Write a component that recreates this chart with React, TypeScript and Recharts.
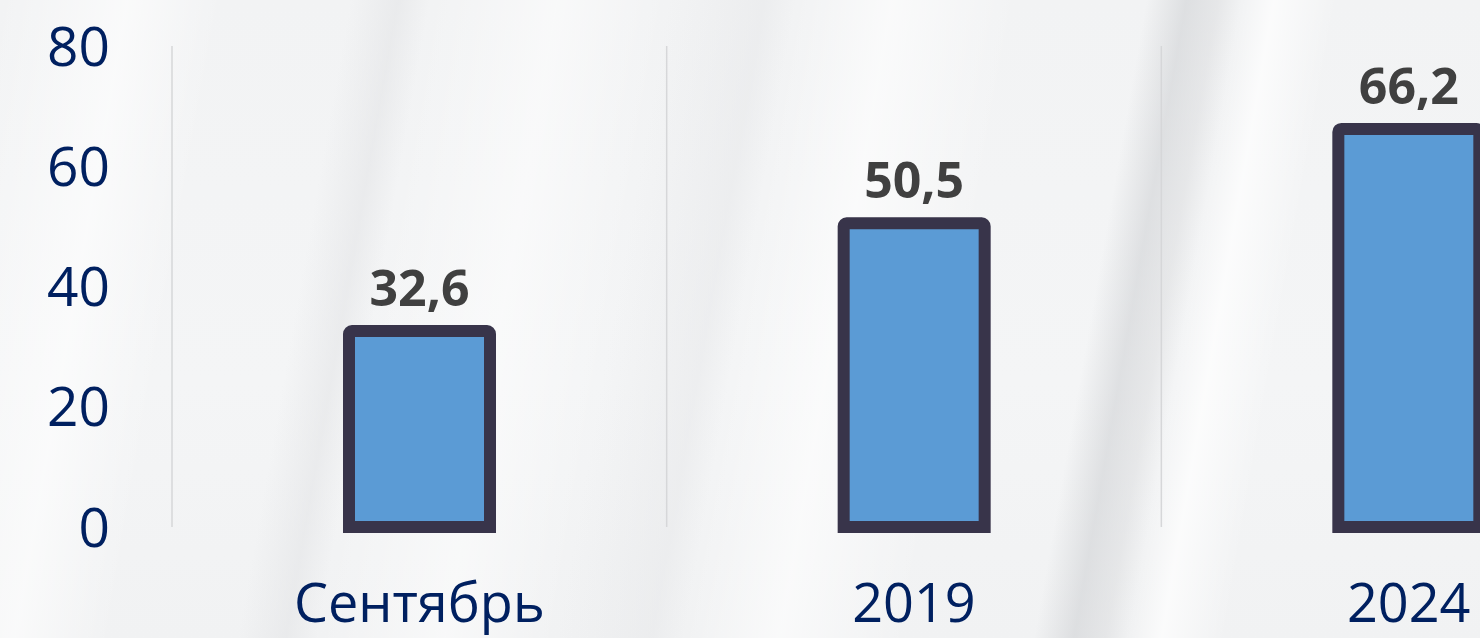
import React from 'react';
import { BarChart, Bar, XAxis, YAxis, CartesianGrid, LabelList } from 'recharts';

const categories = ['Сентябрь', '2019', '2024'];
const values = [32.6, 50.5, 66.2];
const yTicks = [0, 20, 40, 60, 80];
const gridBoundaries = [0, 1, 2, 3];

const data = categories.map((name, i) => ({ name, value: values[i], pos: i + 0.5 }));

const FONT = '"Open Sans", "Noto Sans", sans-serif';
const NAVY = '#002060';

const background = [
  'linear-gradient(100deg, rgba(255,255,255,0) 0%, rgba(255,255,255,0) 72%, rgba(205,207,210,0.55) 74.5%, rgba(215,216,218,0.45) 76.5%, rgba(255,255,255,0.0) 78%, rgba(255,255,255,0.7) 80%, rgba(255,255,255,0) 84%)',
  'linear-gradient(100deg, rgba(255,255,255,0) 0%, rgba(255,255,255,0.6) 8%, rgba(255,255,255,0) 14%, rgba(255,255,255,0) 22%, rgba(228,229,231,0.6) 25%, rgba(255,255,255,0) 27%, rgba(255,255,255,0.5) 35%, rgba(255,255,255,0) 42%, rgba(230,231,233,0.5) 48%, rgba(255,255,255,0) 50%, rgba(255,255,255,0.6) 56%, rgba(255,255,255,0) 64%)',
  'linear-gradient(180deg, #f2f3f4 0%, #f4f5f6 60%, #f1f2f3 100%)',
].join(', ');

export default function App() {
  return (
    <div
      style={{
        position: 'fixed',
        left: 0,
        top: 0,
        width: 1480,
        height: 638,
        overflow: 'hidden',
        background,
        fontFamily: FONT,
      }}
    >
      <BarChart
        width={1700}
        height={638}
        data={data}
        margin={{ top: 46, right: 44, left: 0, bottom: 0 }}
        style={{ fontFamily: FONT }}
      >
        <XAxis
          xAxisId="grid"
          type="number"
          dataKey="pos"
          domain={[0, 3]}
          ticks={gridBoundaries}
          allowDataOverflow
          hide
        />
        <CartesianGrid
          xAxisId="grid"
          horizontal={false}
          vertical
          stroke="#d6d7d9"
          strokeWidth={1.5}
        />
        <XAxis
          dataKey="name"
          height={111}
          axisLine={false}
          tickLine={false}
          tickSize={0}
          tickMargin={57}
          tick={{ fill: NAVY, fontSize: 54, fontFamily: FONT }}
          interval={0}
        />
        <YAxis
          width={172}
          domain={[0, 80]}
          ticks={yTicks}
          axisLine={false}
          tickLine={false}
          tickSize={0}
          tickMargin={62}
          tick={{ fill: NAVY, fontSize: 55, fontFamily: FONT }}
          interval={0}
        />
        <Bar
          dataKey="value"
          fill="#5b9bd5"
          stroke="#38344a"
          strokeWidth={12}
          barSize={141}
          radius={[3, 3, 0, 0]}
          isAnimationActive={false}
        >
          <LabelList
            dataKey="value"
            position="top"
            offset={25}
            fill="#404040"
            fontSize={50}
            fontWeight="bold"
            fontFamily={FONT}
            formatter={(v: any) => String(v).replace('.', ',')}
          />
        </Bar>
      </BarChart>
    </div>
  );
}
